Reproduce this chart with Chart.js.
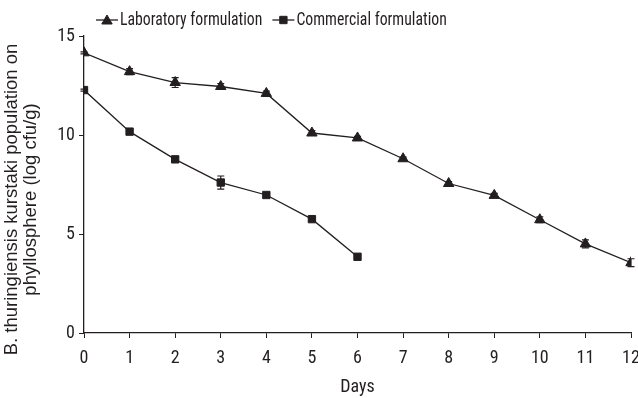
<!DOCTYPE html>
<html><head><meta charset="utf-8">
<script src="https://cdn.jsdelivr.net/npm/chart.js@4.4.1/dist/chart.umd.min.js"></script>
<style>html,body{margin:0;padding:0;background:#fff;}canvas{display:block}</style>
</head><body>
<canvas id="c" width="638" height="398"></canvas>
<script>
const days = [0,1,2,3,4,5,6,7,8,9,10,11,12];
const labValues = [14.15, 13.2, 12.65, 12.45, 12.1, 10.1, 9.85, 8.8, 7.55, 6.95, 5.72, 4.5, 3.55];
const labErrors = [0.05, 0.15, 0.25, 0.15, 0.12, 0.12, 0.08, 0.08, 0.1, 0.1, 0.15, 0.2, 0.2];
const comValues = [12.27, 10.17, 8.77, 7.6, 6.97, 5.75, 3.85];
const comErrors = [0.05, 0.08, 0.08, 0.33, 0.08, 0.08, 0.08];
const seriesNames = ['Laboratory formulation', 'Commercial formulation'];
const yTicks = [0, 5, 10, 15];
const xTitle = 'Days';
const yTitle = ['B. thuringiensis kurstaki population on', 'phyllosphere (log cfu/g)'];

const INK = '#231f20';
const COND = "'Roboto Condensed','Liberation Sans',Arial,sans-serif";
const SANS = "'Liberation Sans',Arial,sans-serif";
Chart.defaults.font.family = COND;
Chart.defaults.color = INK;

function pts(vals){ return vals.map((v,i)=>({x: days[i], y: v})); }

function drawMarker(ctx, style, x, y, r){
  ctx.beginPath();
  if (style === 'triangle') {
    let rad = 0;
    ctx.moveTo(x + Math.sin(rad)*r, y - Math.cos(rad)*r);
    rad += 2*Math.PI/3;
    ctx.lineTo(x + Math.sin(rad)*r, y - Math.cos(rad)*r);
    rad += 2*Math.PI/3;
    ctx.lineTo(x + Math.sin(rad)*r, y - Math.cos(rad)*r);
    ctx.closePath();
  } else {
    const s = Math.SQRT1_2 * r;
    ctx.rect(x - s, y - s, 2*s, 2*s);
  }
  ctx.fill();
  ctx.stroke();
}

const errorBars = {
  id: 'errorBars',
  afterDatasetsDraw(chart){
    const ctx = chart.ctx, ys = chart.scales.y;
    ctx.save();
    ctx.strokeStyle = INK; ctx.lineWidth = 1.2;
    chart.data.datasets.forEach((ds, i) => {
      const meta = chart.getDatasetMeta(i);
      ds.errors.forEach((e, j) => {
        const el = meta.data[j];
        const v = ds.data[j].y;
        const t = ys.getPixelForValue(v + e), b = ys.getPixelForValue(v - e);
        ctx.beginPath();
        ctx.moveTo(el.x, t); ctx.lineTo(el.x, b);
        ctx.moveTo(el.x - 3.5, t); ctx.lineTo(el.x + 3.5, t);
        ctx.moveTo(el.x - 3.5, b); ctx.lineTo(el.x + 3.5, b);
        ctx.stroke();
      });
    });
    ctx.restore();
  }
};

const customLegend = {
  id: 'customLegend',
  afterDraw(chart){
    const ctx = chart.ctx;
    ctx.save();
    ctx.font = '17.5px ' + COND;
    ctx.textBaseline = 'middle';
    ctx.fillStyle = INK; ctx.strokeStyle = INK;
    const sx = 0.9;
    let x = 96; const y = 20;
    chart.data.datasets.forEach((ds) => {
      ctx.lineWidth = 1.3;
      ctx.beginPath(); ctx.moveTo(x, y); ctx.lineTo(x + 22, y); ctx.stroke();
      ctx.lineWidth = 1;
      drawMarker(ctx, ds.pointStyle, x + 11, y + (ds.pointStyle === 'triangle' ? 1 : 0), ds.pointRadius);
      ctx.save();
      ctx.translate(x + 24, y + 1);
      ctx.scale(sx, 1);
      ctx.fillText(ds.label, 0, 0);
      ctx.restore();
      x += 24 + ctx.measureText(ds.label).width * sx + 10;
    });
    ctx.restore();
  }
};

const shiftYTitle = {
  id: 'shiftYTitle',
  beforeDraw(chart){
    const ys = chart.scales.y;
    if (ys._titlePatched) return;
    const orig = ys.drawTitle;
    ys.drawTitle = function(){
      const t = this.top, b = this.bottom;
      this.top = t + 15; this.bottom = b + 15;
      orig.call(this);
      this.top = t; this.bottom = b;
    };
    ys._titlePatched = true;
  }
};

new Chart(document.getElementById('c'), {
  type: 'line',
  data: {
    datasets: [
      { label: seriesNames[0], data: pts(labValues), errors: labErrors, pointStyle: 'triangle', pointRadius: 6 },
      { label: seriesNames[1], data: pts(comValues), errors: comErrors, pointStyle: 'rect', pointRadius: 5.2 }
    ].map(d => Object.assign(d, {
      borderColor: INK, backgroundColor: INK, pointBackgroundColor: INK, pointBorderColor: INK,
      pointBorderWidth: 1, borderWidth: 1.3, tension: 0, fill: false
    }))
  },
  options: {
    responsive: false, animation: false,
    layout: { padding: { top: 36, right: 0, left: 0, bottom: 0 } },
    plugins: { legend: { display: false }, tooltip: { enabled: false } },
    scales: {
      x: {
        type: 'linear', min: 0, max: 12,
        afterBuildTicks(s){ s.ticks = days.map(v => ({value: v})); },
        ticks: { font: { size: 18 }, color: INK, padding: 10 },
        grid: { drawOnChartArea: false, drawTicks: true, tickLength: 5, color: INK, lineWidth: 1 },
        border: { color: INK, width: 1.3 },
        title: { display: true, text: xTitle, font: { size: 18 }, color: INK, padding: { top: 0, bottom: 0 } },
        afterFit(s){ s.height = 65; s.paddingRight = 6; }
      },
      y: {
        min: 0, max: 15,
        afterBuildTicks(s){ s.ticks = yTicks.map(v => ({value: v})); },
        ticks: { font: { size: 18 }, color: INK, padding: 4 },
        grid: { drawOnChartArea: false, drawTicks: true, tickLength: 5, color: INK, lineWidth: 1 },
        border: { color: INK, width: 1.3 },
        title: { display: true, text: yTitle, font: { family: SANS, size: 18.5, lineHeight: 1.0 }, color: INK, padding: { top: 3, bottom: 0 } },
        afterFit(s){ s.width = 84; }
      }
    }
  },
  plugins: [errorBars, customLegend, shiftYTitle]
});
</script>
</body></html>
